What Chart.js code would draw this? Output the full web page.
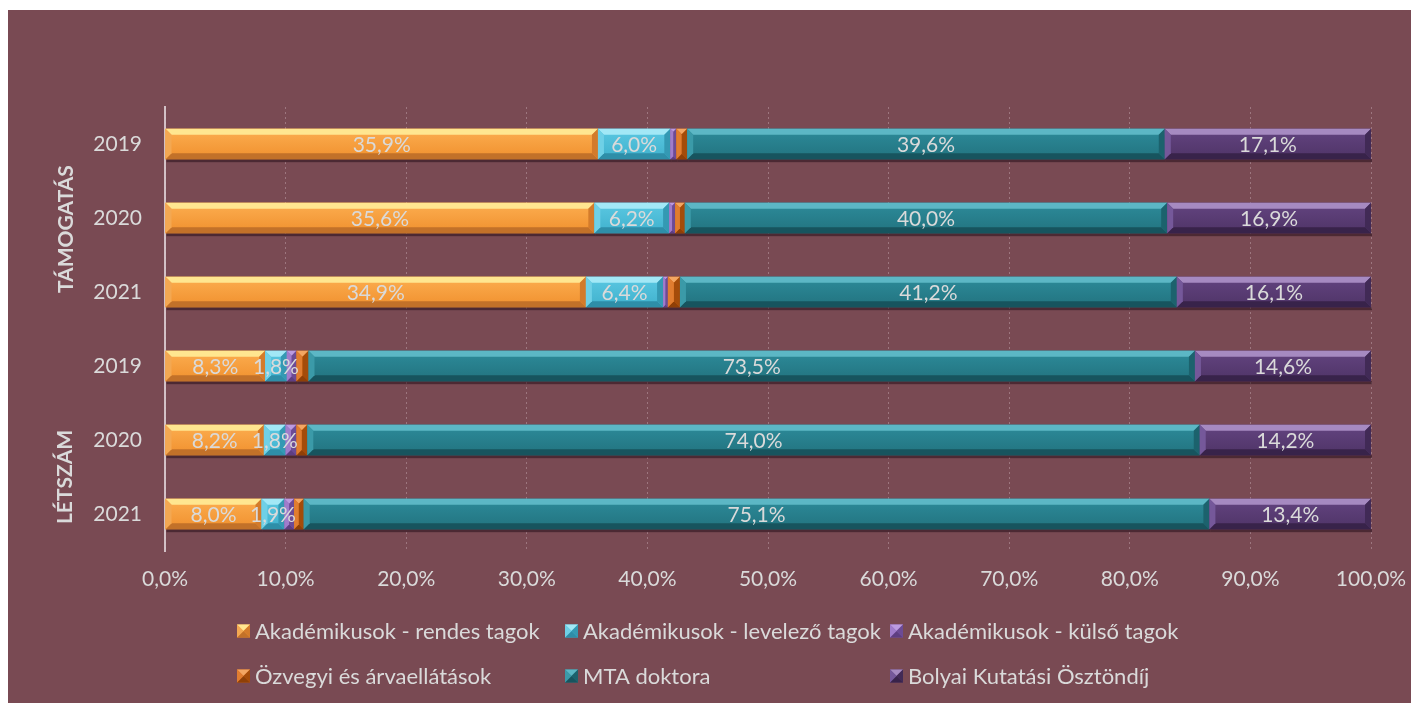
<!DOCTYPE html>
<html>
<head>
<meta charset="utf-8">
<script src="https://cdn.jsdelivr.net/npm/chart.js@4.4.1/dist/chart.umd.min.js"></script>
<style>
html,body{margin:0;padding:0;background:#fff;}
#wrap{position:relative;width:1411px;height:703px;}
canvas{display:block;}
</style>
</head>
<body>
<div id="wrap"><canvas id="c" width="1411" height="703"></canvas></div>
<script>
// ---- DATA ----
const categories = ['2019', '2020', '2021', '2019', '2020', '2021'];
const groupLabels = ['TÁMOGATÁS', 'LÉTSZÁM'];
const seriesNames = [
  'Akadémikusok - rendes tagok',
  'Akadémikusok - levelező tagok',
  'Akadémikusok - külső tagok',
  'Özvegyi és árvaellátások',
  'MTA doktora',
  'Bolyai Kutatási Ösztöndíj'
];
const rendesTagok   = [35.9, 35.6, 34.9, 8.3, 8.2, 8.0];
const levelezoTagok = [6.0, 6.2, 6.4, 1.8, 1.8, 1.9];
const kulsoTagok    = [0.5, 0.5, 0.4, 0.8, 0.9, 0.8];
const ozvegyi       = [0.9, 0.8, 1.0, 1.0, 0.9, 0.8];
const mtaDoktora    = [39.6, 40.0, 41.2, 73.5, 74.0, 75.1];
const bolyai        = [17.1, 16.9, 16.1, 14.6, 14.2, 13.4];
const xTicks = [0, 10, 20, 30, 40, 50, 60, 70, 80, 90, 100];

// ---- STYLES ----
const FONT = 'Lato, "Open Sans", sans-serif';
const TXT = '#dadada';
const palette = [
  {base:'#f69a38', faceTop:'#fcae50', faceBot:'#f0902e', top:'#ffe690', bot:'#c27129', left:'#f3a852', right:'#d37b2b'},
  {base:'#4fbfda', faceTop:'#5bc8e2', faceBot:'#40b1cd', top:'#a2e8f6', bot:'#2e8ea8', left:'#6fd0e6', right:'#3499b3'},
  {base:'#8a60b5', faceTop:'#9268be', faceBot:'#7f56aa', top:'#bb9be0', bot:'#5e3e82', left:'#a07ccb', right:'#6c4b95'},
  {base:'#d1620f', faceTop:'#d86a14', faceBot:'#c55a0c', top:'#f3a662', bot:'#8f4007', left:'#e07d30', right:'#a44c0a'},
  {base:'#27808f', faceTop:'#2d8b9a', faceBot:'#22737f', top:'#5cb7c5', bot:'#17545e', left:'#3b9aa8', right:'#1c626d'},
  {base:'#5c3f75', faceTop:'#634480', faceBot:'#4f3467', top:'#a68ac1', bot:'#38234a', left:'#75589a', right:'#412a56'}
];
const showLabel = [true, true, false, false, true, true];
const allSeries = [rendesTagok, levelezoTagok, kulsoTagok, ozvegyi, mtaDoktora, bolyai];
const fmt = v => v.toFixed(1).replace('.', ',') + '%';

const bgPlugin = {
  id: 'bg',
  beforeDraw(chart) {
    const ctx = chart.ctx;
    ctx.save();
    ctx.fillStyle = '#ffffff';
    ctx.fillRect(0, 0, chart.width, chart.height);
    ctx.fillStyle = '#794a53';
    ctx.fillRect(8, 10, chart.width - 8, chart.height - 10);
    ctx.restore();
  }
};

function bevelRect(ctx, l, t, r, b, p, bw) {
  const w = r - l, h = b - t;
  const e = Math.max(0, Math.min(bw, w / 2, h / 2));
  const g = ctx.createLinearGradient(0, t, 0, b);
  g.addColorStop(0, p.faceTop); g.addColorStop(1, p.faceBot);
  ctx.fillStyle = g;
  ctx.fillRect(l, t, w, h);
  const poly = (pts, col) => {
    ctx.beginPath(); ctx.moveTo(pts[0][0], pts[0][1]);
    for (let i = 1; i < pts.length; i++) ctx.lineTo(pts[i][0], pts[i][1]);
    ctx.closePath(); ctx.fillStyle = col; ctx.fill();
  };
  poly([[l,t],[r,t],[r-e,t+e],[l+e,t+e]], p.top);
  poly([[l,b],[r,b],[r-e,b-e],[l+e,b-e]], p.bot);
  poly([[l,t],[l+e,t+e],[l+e,b-e],[l,b]], p.left);
  poly([[r,t],[r-e,t+e],[r-e,b-e],[r,b]], p.right);
}

const bevelPlugin = {
  id: 'bevel',
  afterDatasetsDraw(chart) {
    const ctx = chart.ctx;
    ctx.save();
    chart.data.datasets.forEach((ds, di) => {
      const meta = chart.getDatasetMeta(di);
      meta.data.forEach(el => {
        const {x, y, base, height} = el.getProps(['x','y','base','height'], true);
        const l = Math.min(x, base), r = Math.max(x, base);
        ctx.fillStyle = 'rgba(40,15,25,0.55)';
        ctx.fillRect(l + 1, y + height / 2, r - l, 3);
      });
    });
    chart.data.datasets.forEach((ds, di) => {
      const meta = chart.getDatasetMeta(di);
      const p = palette[di];
      meta.data.forEach(el => {
        const {x, y, base, height} = el.getProps(['x','y','base','height'], true);
        const l = Math.min(x, base), r = Math.max(x, base);
        bevelRect(ctx, l, y - height / 2, r, y + height / 2, p, 6);
      });
    });
    ctx.font = '21px ' + FONT;
    ctx.fillStyle = TXT;
    ctx.textAlign = 'center';
    ctx.textBaseline = 'middle';
    chart.data.datasets.forEach((ds, di) => {
      if (!showLabel[di]) return;
      const meta = chart.getDatasetMeta(di);
      meta.data.forEach((el, i) => {
        const {x, y, base} = el.getProps(['x','y','base'], true);
        ctx.fillText(fmt(ds.data[i]), (x + base) / 2, y + 1);
      });
    });
    ctx.restore();
  }
};

const extrasPlugin = {
  id: 'extras',
  afterDraw(chart) {
    const ctx = chart.ctx;
    const ys = chart.scales.y;
    ctx.save();
    ctx.font = 'bold 21px ' + FONT;
    ctx.fillStyle = TXT;
    ctx.textAlign = 'center';
    ctx.textBaseline = 'middle';
    const gpos = [[66, ys.getPixelForValue(1.15)], [65, ys.getPixelForValue(4.5)]];
    groupLabels.forEach((g, i) => {
      ctx.save();
      ctx.translate(gpos[i][0], gpos[i][1]);
      ctx.rotate(-Math.PI / 2);
      ctx.fillText(g, 0, 0);
      ctx.restore();
    });
    const cols = [237, 565, 890], rows = [631, 676];
    ctx.font = '22px ' + FONT;
    ctx.textAlign = 'left';
    seriesNames.forEach((name, i) => {
      const cx = cols[i % 3], cy = rows[Math.floor(i / 3)];
      const s = 13;
      bevelRect(ctx, cx, cy - s / 2, cx + s, cy + s / 2, palette[i], 6.5);
      ctx.fillStyle = TXT;
      ctx.fillText(name, cx + 18, cy + 1);
    });
    ctx.restore();
  }
};

const ctx = document.getElementById('c').getContext('2d');
new Chart(ctx, {
  type: 'bar',
  data: {
    labels: categories,
    datasets: seriesNames.map((n, i) => ({
      label: n,
      data: allSeries[i],
      backgroundColor: palette[i].base,
      borderWidth: 0,
      categoryPercentage: 1,
      barPercentage: 0.41
    }))
  },
  options: {
    indexAxis: 'y',
    responsive: false,
    animation: false,
    devicePixelRatio: 1,
    layout: {padding: {left: 0, top: 107, right: 40, bottom: 0}},
    plugins: {legend: {display: false}, tooltip: {enabled: false}},
    scales: {
      x: {
        stacked: true,
        min: 0, max: 100,
        afterBuildTicks(scale) { scale.ticks = xTicks.map(v => ({value: v})); },
        afterFit(scale) { scale.height = 152; scale.paddingLeft = 0; scale.paddingRight = 0; },
        ticks: {
          callback: v => fmt(v),
          color: TXT,
          font: {family: FONT, size: 21},
          padding: 16,
          maxRotation: 0
        },
        grid: {
          color: 'rgba(225,200,208,0.35)',
          lineWidth: 1,
          drawTicks: false
        },
        border: {display: false, dash: [2, 3]}
      },
      y: {
        stacked: true,
        afterFit(scale) { scale.width = 165; scale.paddingTop = 0; scale.paddingBottom = 0; },
        ticks: {
          color: TXT,
          font: {family: FONT, size: 21},
          padding: 15
        },
        grid: {display: false},
        border: {display: true, color: 'rgba(220,205,210,0.9)', width: 2, dash: [2, 1]}
      }
    }
  },
  plugins: [bgPlugin, bevelPlugin, extrasPlugin]
});
</script>
</body>
</html>
